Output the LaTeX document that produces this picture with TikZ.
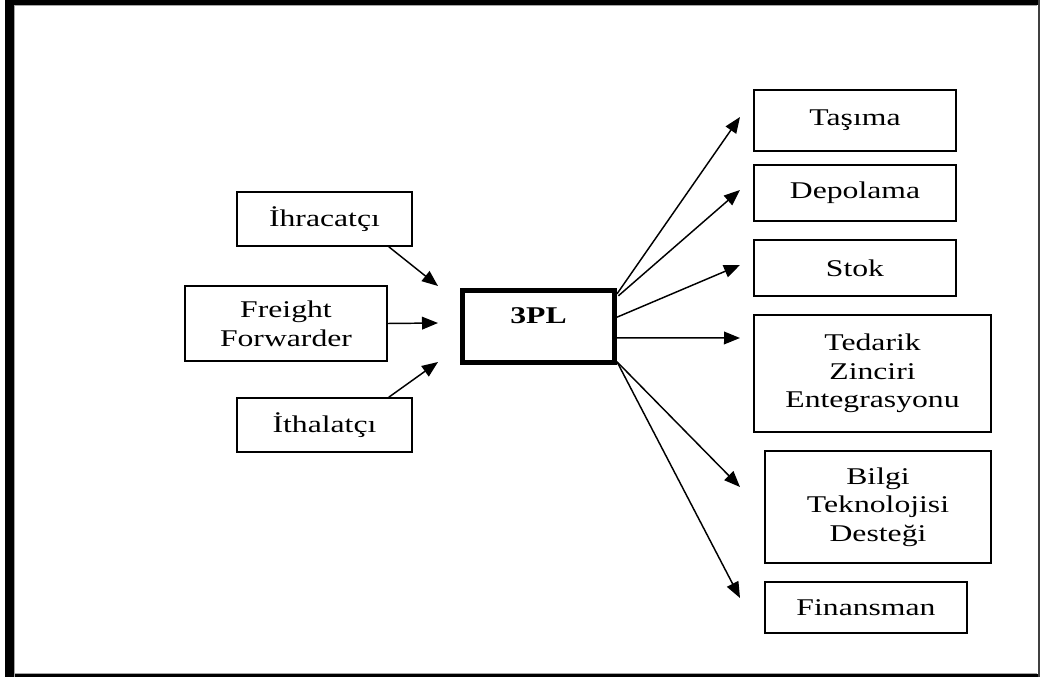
\documentclass[tikz,border=0pt]{standalone}
\usepackage{fontspec}
\setmainfont{Liberation Serif}[FakeStretch=1.32]
\usetikzlibrary{arrows.meta}
\begin{document}
\begin{tikzpicture}[x=0.75pt,y=-0.75pt,
  box/.style={draw=black,line width=1.1pt,fill=white,align=center,inner sep=0pt,
    font=\fontsize{18}{21.5}\selectfont},
  bigbox/.style={draw=black,line width=3.8pt,fill=white,inner sep=0pt,
    font=\fontsize{18}{21.5}\selectfont\bfseries},
  conn/.style={line width=1.1pt,-{Triangle[length=12pt,width=9.5pt]}}]
\useasboundingbox (0,0) rectangle (1040,677);
% frame
\fill[black] (5,0) rectangle (14,677);
\fill[black] (5,0) rectangle (1040,5);
\fill[black] (5,674) rectangle (1040,677);
\fill[black!75] (1037.5,0) rectangle (1040,677);
\draw[black!35,line width=0.6pt] (14.5,677) -- (14.5,5.5) -- (1037,5.5);
\draw[black!35,line width=0.6pt] (14.5,673.5) -- (1037,673.5);
% left nodes
\node[box,minimum width=131.25pt,minimum height=40.5pt] (ihr) at (324.5,219) {İhracatçı};
\node[box,minimum width=151.5pt,minimum height=56.25pt] (ff) at (286,323.5) {Freight\\Forwarder};
\node[box,minimum width=131.25pt,minimum height=40.5pt] (ith) at (324.5,425) {İthalatçı};
% center
\node[bigbox,minimum width=114pt,minimum height=54pt,text depth=16pt] (pl) at (538.5,326.5) {3PL};
% right nodes
\node[box,minimum width=151.5pt,minimum height=45.75pt] (tas) at (855,120.5) {Taşıma};
\node[box,minimum width=151.5pt,minimum height=42pt] (dep) at (855,193) {Depolama};
\node[box,minimum width=151.5pt,minimum height=42pt] (stk) at (855,268) {Stok};
\node[box,minimum width=177.75pt,minimum height=87.75pt] (ted) at (872.5,373.5) {Tedarik\\Zinciri\\Entegrasyonu};
\node[box,minimum width=169.5pt,minimum height=84pt] (bil) at (878,507) {Bilgi\\Teknolojisi\\Desteği};
\node[box,minimum width=151.5pt,minimum height=38.25pt] (fin) at (866,607.5) {Finansman};
% free ends
\coordinate (e1) at (438,286);
\coordinate (e2) at (438,323);
\coordinate (e3) at (438,362);
\coordinate (r1) at (740,117);
\coordinate (r2) at (740,190);
\coordinate (r3) at (740,265);
\coordinate (r4) at (740,338);
\coordinate (r5) at (740,487);
\coordinate (r6) at (740,598);
% arrows
\draw[conn] ([xshift=-18pt]ihr.south east) -- (e1);
\draw[conn] (ff.east) -- (e2);
\draw[conn] ([xshift=-18pt]ith.north east) -- (e3);
\draw[conn] ([yshift=24.5pt]pl.east) -- (r1);
\draw[conn] ([yshift=23pt,xshift=1pt]pl.east) -- (r2);
\draw[conn] ([yshift=7pt]pl.east) -- (r3);
\draw[conn] ([yshift=-8.5pt]pl.east) -- (r4);
\draw[conn] ([yshift=-26.5pt]pl.east) -- (r5);
\draw[conn] ([yshift=-26.5pt]pl.east) -- (r6);
\end{tikzpicture}
\end{document}
